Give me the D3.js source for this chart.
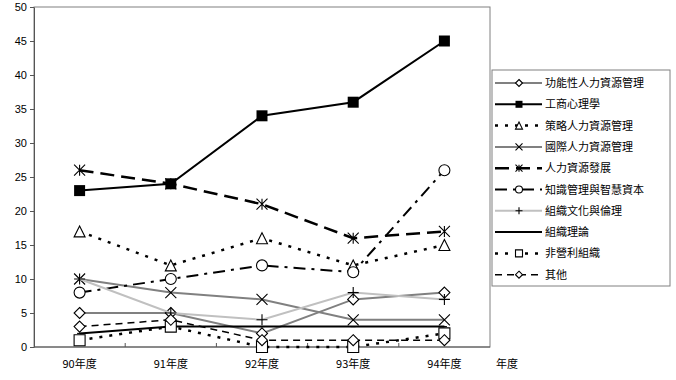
<!DOCTYPE html>
<html>
<head>
<meta charset="utf-8">
<script src="https://cdn.jsdelivr.net/npm/d3@7"></script>
<style>
  body { margin: 0; background: #fff; }
  text { font-family: "Liberation Sans", Arial, sans-serif; }
  .cjk { font-family: "Noto Sans CJK TC", "Noto Sans CJK SC", sans-serif; }
</style>
</head>
<body>
<svg id="drawing_region"></svg>
<script>
// categories and series values
const years = ['90年度', '91年度', '92年度', '93年度', '94年度'];
const xTitle = '年度';
const yTicks = [0, 5, 10, 15, 20, 25, 30, 35, 40, 45, 50];

const seriesNames = [
    '功能性人力資源管理', '工商心理學', '策略人力資源管理', '國際人力資源管理',
    '人力資源發展', '知識管理與智慧資本', '組織文化與倫理', '組織理論',
    '非營利組織', '其他'
];
const functionalHR   = [5, 5, 2, 7, 8];
const industrialPsy  = [23, 24, 34, 36, 45];
const strategicHR    = [17, 12, 16, 12, 15];
const internationalHR = [10, 8, 7, 4, 4];
const hrDevelopment  = [26, 24, 21, 16, 17];
const knowledgeMgmt  = [8, 10, 12, 11, 26];
const cultureEthics  = [10, 5, 4, 8, 7];
const orgTheory      = [2, 3, 3, 3, 3];
const nonProfit      = [1, 3, 0, 0, 2];
const others         = [3, 4, 1, 1, 1];

const seriesValues = [functionalHR, industrialPsy, strategicHR, internationalHR,
    hrDevelopment, knowledgeMgmt, cultureEthics, orgTheory, nonProfit, others];

// drawing styles per series (same order)
const styles = [
    {stroke: '#808080', width: 2,   dash: null,          marker: 'diamond'},
    {stroke: '#000',    width: 2,   dash: null,          marker: 'squareFilled'},
    {stroke: '#000',    width: 2.5, dash: '3,7',         marker: 'triangle'},
    {stroke: '#808080', width: 2,   dash: null,          marker: 'cross'},
    {stroke: '#000',    width: 2.5, dash: '14,7',        marker: 'asterisk'},
    {stroke: '#000',    width: 2,   dash: '12,6,3,6',    marker: 'circle'},
    {stroke: '#c0c0c0', width: 2,   dash: null,          marker: 'plus'},
    {stroke: '#000',    width: 2,   dash: null,          marker: 'dash'},
    {stroke: '#000',    width: 2.5, dash: '3,7',         marker: 'square'},
    {stroke: '#000',    width: 1.5, dash: '7,5',         marker: 'diamond'}
];

const config = {
    width: 676,
    height: 380,
    plot: {left: 34, top: 7, right: 490, bottom: 347},
    legend: {x: 492, y: 70, w: 178, h: 216, row: 21.3}
};

const svg = d3.select('#drawing_region')
    .attr('width', config.width)
    .attr('height', config.height);

const xscale = d3.scaleBand()
    .domain(years)
    .range([config.plot.left, config.plot.right]);

const yscale = d3.scaleLinear()
    .domain([0, 50])
    .range([config.plot.bottom, config.plot.top]);

function markerPath(type, s) {
    const h = s / 2;
    switch (type) {
        case 'diamond': return `M0,${-h}L${h},0L0,${h}L${-h},0Z`;
        case 'square':
        case 'squareFilled': return `M${-h},${-h}H${h}V${h}H${-h}Z`;
        case 'triangle': return `M0,${-h}L${h},${h}L${-h},${h}Z`;
        case 'cross': return `M${-h},${-h}L${h},${h}M${h},${-h}L${-h},${h}`;
        case 'asterisk': return `M${-h},${-h}L${h},${h}M${h},${-h}L${-h},${h}M0,${-h}V${h}`;
        case 'plus': return `M${-h},0H${h}M0,${-h}V${h}`;
        case 'dash': return `M${-h * 0.5},0H${h * 0.5}`;
        case 'circle': return d3.arc()({innerRadius: 0, outerRadius: h, startAngle: 0, endAngle: 2 * Math.PI});
    }
}

function drawMarker(g, type, x, y, size) {
    const filled = type === 'squareFilled';
    const lineOnly = ['cross', 'asterisk', 'plus', 'dash'].includes(type);
    g.append('path')
        .attr('d', markerPath(type, size))
        .attr('transform', `translate(${x},${y})`)
        .attr('fill', filled ? '#000' : (lineOnly ? 'none' : '#fff'))
        .attr('stroke', '#000')
        .attr('stroke-width', filled ? 0 : 1.1);
}

// plot frame
svg.append('rect')
    .attr('x', config.plot.left)
    .attr('y', config.plot.top)
    .attr('width', config.plot.right - config.plot.left)
    .attr('height', config.plot.bottom - config.plot.top)
    .attr('fill', 'none')
    .attr('stroke', '#808080')
    .attr('stroke-width', 1);

// y axis
const yaxis = d3.axisLeft(yscale).tickValues(yTicks).tickSize(4).tickSizeOuter(0);
const yaxis_group = svg.append('g')
    .attr('transform', `translate(${config.plot.left},0)`)
    .call(yaxis);
yaxis_group.select('.domain').attr('stroke', '#555');
yaxis_group.selectAll('.tick line').attr('stroke', '#555');
yaxis_group.selectAll('.tick text')
    .attr('x', -7)
    .style('font-size', '11px')
    .attr('fill', '#000');

// x axis: ticks between the categories, inward
const xaxis_group = svg.append('g')
    .attr('transform', `translate(0,${config.plot.bottom})`);
xaxis_group.append('line')
    .attr('x1', config.plot.left).attr('x2', config.plot.right)
    .attr('stroke', '#555');
xaxis_group.selectAll('.tick-mark')
    .data(years.slice(1))
    .join('line')
    .attr('x1', d => xscale(d)).attr('x2', d => xscale(d))
    .attr('y1', 0).attr('y2', -4)
    .attr('stroke', '#555');
xaxis_group.selectAll('.xlabel')
    .data(years)
    .join('text')
    .attr('class', 'cjk')
    .attr('x', d => xscale(d) + xscale.bandwidth() / 2)
    .attr('y', 21)
    .attr('text-anchor', 'middle')
    .style('font-size', '11px')
    .text(d => d);
svg.append('text')
    .attr('class', 'cjk')
    .attr('x', 507)
    .attr('y', config.plot.bottom + 21)
    .attr('text-anchor', 'middle')
    .style('font-size', '11px')
    .text(xTitle);

// series
const line = d3.line()
    .x((d, i) => xscale(years[i]) + xscale.bandwidth() / 2)
    .y(d => yscale(d));

seriesValues.forEach((vals, k) => {
    const st = styles[k];
    const g = svg.append('g');
    g.append('path')
        .attr('d', line(vals))
        .attr('fill', 'none')
        .attr('stroke', st.stroke)
        .attr('stroke-width', st.width)
        .attr('stroke-dasharray', st.dash);
    vals.forEach((v, i) => {
        drawMarker(g, st.marker, xscale(years[i]) + xscale.bandwidth() / 2, yscale(v),
            st.marker === 'dash' ? 10 : 11);
    });
});

// legend
const lg = svg.append('g');
lg.append('rect')
    .attr('x', config.legend.x)
    .attr('y', config.legend.y)
    .attr('width', config.legend.w)
    .attr('height', config.legend.h)
    .attr('fill', '#fff')
    .attr('stroke', '#808080');
seriesNames.forEach((name, k) => {
    const st = styles[k];
    const y = config.legend.y + 13 + k * config.legend.row;
    lg.append('line')
        .attr('x1', config.legend.x + 3).attr('x2', config.legend.x + 50)
        .attr('y1', y).attr('y2', y)
        .attr('stroke', st.stroke)
        .attr('stroke-width', st.width)
        .attr('stroke-dasharray', st.dash);
    drawMarker(lg, st.marker, config.legend.x + 27, y, st.marker === 'dash' ? 7 : 7);
    lg.append('text')
        .attr('class', 'cjk')
        .attr('x', config.legend.x + 53)
        .attr('y', y + 4)
        .style('font-size', '11px')
        .text(name);
});
</script>
</body>
</html>
